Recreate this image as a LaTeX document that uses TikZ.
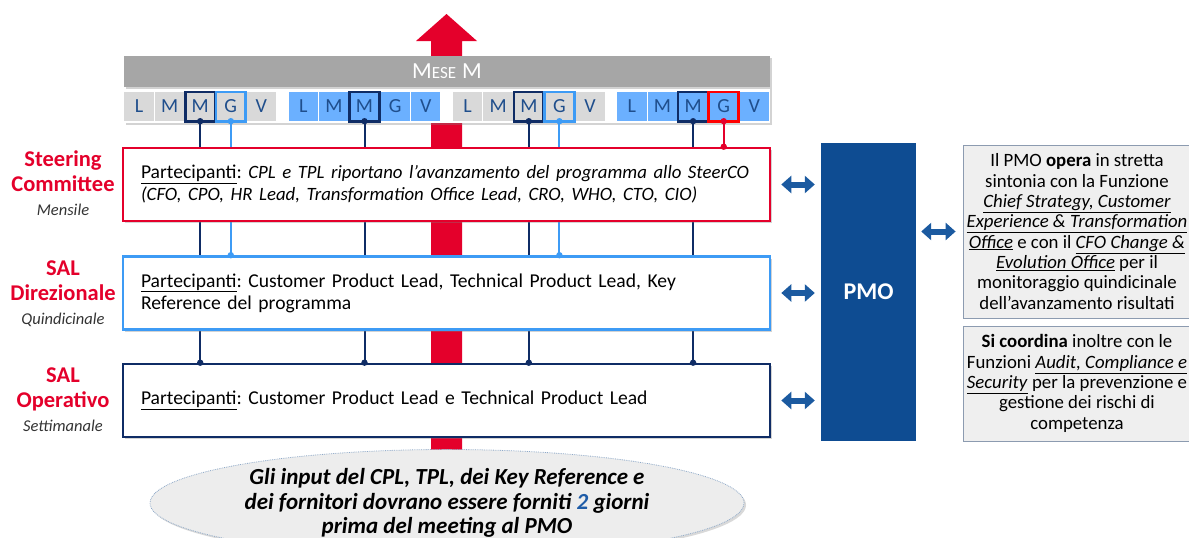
\documentclass[tikz,border=0pt]{standalone}
\usepackage{fontspec}
\setmainfont{Carlito}
\usetikzlibrary{shadows,arrows.meta,shapes.geometric}
\definecolor{ared}{HTML}{E4002B}
\definecolor{navy}{HTML}{0F2C65}
\definecolor{lblue}{HTML}{3D9BF5}
\definecolor{cblue}{HTML}{6BB0FF}
\definecolor{cgrey}{HTML}{D9D9D9}
\definecolor{bargrey}{HTML}{A6A6A6}
\definecolor{pmoblue}{HTML}{0E4C92}
\definecolor{arrblue}{HTML}{1B5AA0}
\definecolor{celltxt}{HTML}{1F4E8C}
\definecolor{rboxfill}{HTML}{EFEFEF}
\definecolor{rboxdraw}{HTML}{8C9BB0}
\definecolor{elfill}{HTML}{EDEDED}
\definecolor{eldraw}{HTML}{8EA9C8}
\definecolor{subgrey}{HTML}{333333}
\definecolor{twoblue}{HTML}{1F5CA8}
\begin{document}
\frenchspacing
\begin{tikzpicture}[x=1pt,y=-1pt,
  cellbox/.style={minimum width=29.5pt,minimum height=29pt,inner sep=0pt,text=celltxt,font=\fontsize{20}{20}\selectfont},
  hlbox/.style={line width=2.6pt},
  vline/.style={line width=2pt},
  lbox/.style={draw,line width=2.6pt,fill=white,minimum width=647pt,minimum height=73pt,inner xsep=18pt,text width=611pt,align=left,font=\fontsize{19.6}{22}\selectfont,
    drop shadow={opacity=0.35,shadow xshift=2pt,shadow yshift=-2pt}},
  ttl/.style={text=ared,align=center,font=\bfseries\fontsize{22.5}{25}\selectfont},
  sub/.style={text=subgrey,font=\itshape\fontsize{16.5}{18}\selectfont},
  dbl/.style={line width=6pt,arrblue,{Triangle[width=17pt,length=10pt]}-{Triangle[width=17pt,length=10pt]}},
  rbox/.style={draw=rboxdraw,line width=0.8pt,fill=rboxfill,minimum width=228pt,align=center,font=\fontsize{18.8}{20.3}\selectfont},
  dotm/.style={radius=3.2pt}
]
\useasboundingbox (0,0) rectangle (1189,538);
\clip (0,0) rectangle (1189,538);

% big red arrow
\fill[ared] (431,457) -- (431,41) -- (416,41) -- (446.5,14) -- (477,41) -- (462,41) -- (462,457) -- cycle;

% month bar and day strip
\fill[white, drop shadow={opacity=0.35,shadow xshift=2pt,shadow yshift=-2pt}] (124,87) rectangle (770,123);
\node[fill=bargrey,minimum width=646pt,minimum height=31pt,inner sep=0pt,text=white,
  drop shadow={opacity=0.35,shadow xshift=2pt,shadow yshift=-2pt}] (bar) at (447,71.5)
  {{\fontsize{23}{23}\selectfont M}{\fontsize{17}{17}\selectfont ESE}\hspace{6pt}{\fontsize{23}{23}\selectfont M}};

\foreach \g in {0,...,3}{
  \foreach \l [count=\i from 0] in {L,M,M,G,V}{
    \pgfmathsetmacro\cx{124+\g*164.3+15+\i*30.6}
    \ifodd\g \def\cf{cblue}\else\def\cf{cgrey}\fi
    \node[cellbox,fill=\cf] (c\g\i) at (\cx,106.5) {\l};
  }
}

\path (446.5,184.5) coordinate (scc) (446.5,293) coordinate (sdc) (446.5,400.5) coordinate (soc);

% vertical connector lines
\foreach \n in {c02,c12,c22,c32}{
  \draw[vline,navy] (\n.south) -- (\n.south |- 0,364);
}
\foreach \n in {c03,c23}{
  \draw[vline,lblue] (\n.south) -- (\n.south |- 0,258);
}
\draw[vline,ared] (c33.south) -- (c33.south |- 0,148);

% highlighted cells
\foreach \n in {c02,c12,c22,c32}{
  \draw[hlbox,navy] (\n.north west) rectangle (\n.south east);
}
\foreach \n in {c03,c23}{
  \draw[hlbox,lblue] (\n.north west) rectangle (\n.south east);
}
\draw[hlbox,red] (c33.north west) rectangle (c33.south east);

% level boxes
\node[lbox,draw=ared] (sc) at (scc)
  {\mbox{\underline{Partecipanti}: \fontsize{18.8}{22}\selectfont\textit{CPL e TPL riportano l’avanzamento del programma allo SteerCO}}\\\mbox{\fontsize{18.8}{22}\selectfont\textit{(CFO, CPO, HR Lead, Transformation Office Lead, CRO, WHO, CTO, CIO)}}};
\node[lbox,draw=lblue] (sd) at (sdc)
  {\underline{Partecipanti}: Customer Product Lead, Technical Product Lead, Key\\Reference del programma};
\node[lbox,draw=navy] (so) at (soc)
  {\underline{Partecipanti}: Customer Product Lead e Technical Product Lead};

% dots
\foreach \n in {c02,c12,c22,c32}{
  \fill[navy] (\n.south) circle[dotm];
  \fill[navy] (\n.south |- so.north) circle[dotm];
}
\foreach \n in {c03,c23}{
  \fill[lblue] (\n.south) circle[dotm];
  \fill[lblue] (\n.south |- sd.north) circle[dotm];
}
\fill[ared] (c33.south) circle[dotm];
\fill[ared] (c33.south |- sc.north) circle[dotm];

% left labels
\node[ttl] (t1) at (63,171.5) {Steering\\Committee};
\node[sub] (s1) at (63,210) {Mensile};
\node[ttl] (t2) at (63,281) {SAL\\Direzionale};
\node[sub] (s2) at (63,320) {Quindicinale};
\node[ttl] (t3) at (63,389) {SAL\\Operativo};
\node[sub] (s3) at (63,426) {Settimanale};

% PMO
\node[fill=pmoblue,minimum width=95pt,minimum height=298pt,inner sep=0pt,text=white,
  font=\bfseries\fontsize{24}{24}\selectfont] (pmo) at (868.5,292) {PMO};

% double arrows
\draw[dbl] ([xshift=10pt]sc.east) -- ([xshift=-6pt]pmo.west |- sc.east);
\draw[dbl] ([xshift=10pt]sd.east) -- ([xshift=-6pt]pmo.west |- sd.east);
\draw[dbl] ([xshift=10pt]so.east) -- ([xshift=-6pt]pmo.west |- so.east);

% right boxes
\node[rbox,minimum height=173pt] (r1) at (1077,231.5)
  {Il PMO \textbf{opera} in stretta\\sintonia con la Funzione\\\underline{\textit{Chief Strategy, Customer}}\\\underline{\textit{Experience \& Transformation}}\\\underline{\textit{Office}} e con il \underline{\textit{CFO Change \&}}\\\underline{\textit{Evolution Office}} per il\\monitoraggio quindicinale\\dell’avanzamento risultati};
\node[rbox,minimum height=115pt] (r2) at (1077,383.5)
  {\textbf{Si coordina} inoltre con le\\Funzioni \underline{\textit{Audit, Compliance e}}\\\underline{\textit{Security}} per la prevenzione e\\gestione dei rischi di\\competenza};
\draw[dbl] ([xshift=5pt]pmo.east |- r1.west) -- ([xshift=-7pt]r1.west);

% ellipse
\node[ellipse,fill=elfill,draw=eldraw,densely dotted,line width=0.8pt,minimum width=594pt,minimum height=92pt,
  align=center,font=\bfseries\itshape\fontsize{23}{24.5}\selectfont,
  drop shadow={opacity=0.3,shadow xshift=2pt,shadow yshift=-2pt}] (el) at (447,503)
  {Gli input del CPL, TPL, dei Key Reference e\\dei fornitori dovrano essere forniti {\color{twoblue}2} giorni\\prima del meeting al PMO};
\end{tikzpicture}
\end{document}
